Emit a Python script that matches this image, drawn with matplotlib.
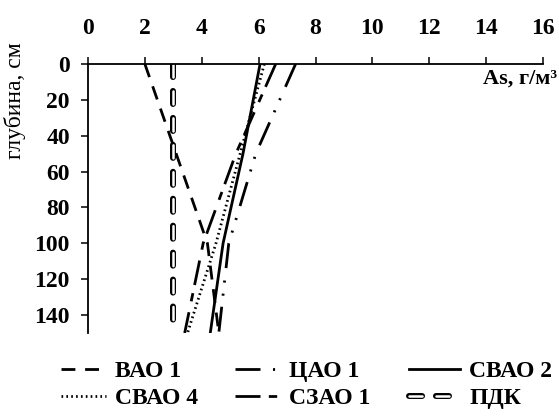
import numpy as np
import matplotlib.pyplot as plt

plt.rcParams['font.family'] = ['Liberation Serif', 'DejaVu Serif']
plt.rcParams['lines.scale_dashes'] = False

# depth, cm
depth = [0, 50, 100, 150]
vao1 = [2.0, 3.1, 4.2, 4.6]
cao1 = [7.3, 5.9, 4.95, 4.6]
svao2 = [6.05, 5.45, 4.75, 4.3]
svao4 = [6.2, 5.35, 4.5, 3.5]
szao1 = [6.6, 5.2, 4.05, 3.4]
pdk = [3.0, 3.0, 3.0, 3.0]

x_ticks = np.arange(0, 17, 2)
y_ticks = np.arange(0, 141, 20)

W, H = 559, 419
fig = plt.figure(figsize=(W / 100, H / 100), dpi=100)
ax = fig.add_axes([88 / W, 1 - 333 / H, 455 / W, 269 / H])

lw = 2.0
h_vao, = ax.plot(vao1, depth, color='black', lw=lw, dashes=(10, 7))
h_cao, = ax.plot(cao1, depth, color='black', lw=lw, dashes=(18, 9, 1.5, 8, 1.5, 8))
h_sv2, = ax.plot(svao2, depth, color='black', lw=lw)
h_sv4, = ax.plot(svao4, depth, color='black', lw=lw, dashes=(1.2, 2.3))
h_sz, = ax.plot(szao1, depth, color='black', lw=lw, dashes=(18, 6, 6, 8))
# ПДК: hollow dashes = thick black dash with thin white dash on top
p_out, = ax.plot(pdk, depth, color='black', lw=4.3, dashes=(9.4, 10),
                 dash_capstyle='round')
p_in, = ax.plot(pdk, depth, color='white', lw=1.8, dashes=(9.4, 10),
                dash_capstyle='round')

ax.set_xlim(0, 16)
ax.set_ylim(150, 0)
ax.xaxis.tick_top()
ax.set_xticks(x_ticks)
ax.set_yticks(y_ticks)
ax.spines['right'].set_visible(False)
ax.spines['bottom'].set_visible(False)
for s in ('top', 'left'):
    ax.spines[s].set_linewidth(1.3)
ax.tick_params(axis='x', direction='out', length=5, width=1.1, pad=13)
ax.tick_params(axis='y', direction='out', length=5, width=1.1, pad=8)
for lab in ax.get_xticklabels() + ax.get_yticklabels():
    lab.set_fontsize(17)
    lab.set_fontweight('bold')

fig.text(557 / W, 1 - 69 / H, 'As, г/м³', ha='right', va='top',
         fontsize=16, fontweight='bold')
fig.text(15 / W, 1 - 101 / H, 'глубина, см', rotation=90, ha='center', va='center',
         fontsize=17)

# legend: three columns, placed one by one
columns = [
    (61, [h_vao, h_sv4], ['ВАО 1', 'СВАО 4'], 1.9),
    (235, [h_cao, h_sz], ['ЦАО 1', 'СЗАО 1'], 1.9),
    (409, [h_sv2, (p_out, p_in)], ['СВАО 2', 'ПДК'], 2.15),
]
for x0, hs, ls, hl in columns:
    fig.legend(hs, ls, loc='center left', bbox_to_anchor=(x0 / W, 1 - 385 / H),
               frameon=False, borderpad=0, borderaxespad=0,
               prop={'size': 17, 'weight': 'bold'},
               handlelength=hl, handletextpad=0.4, labelspacing=0.25)

fig.savefig('out.png', dpi=100)
